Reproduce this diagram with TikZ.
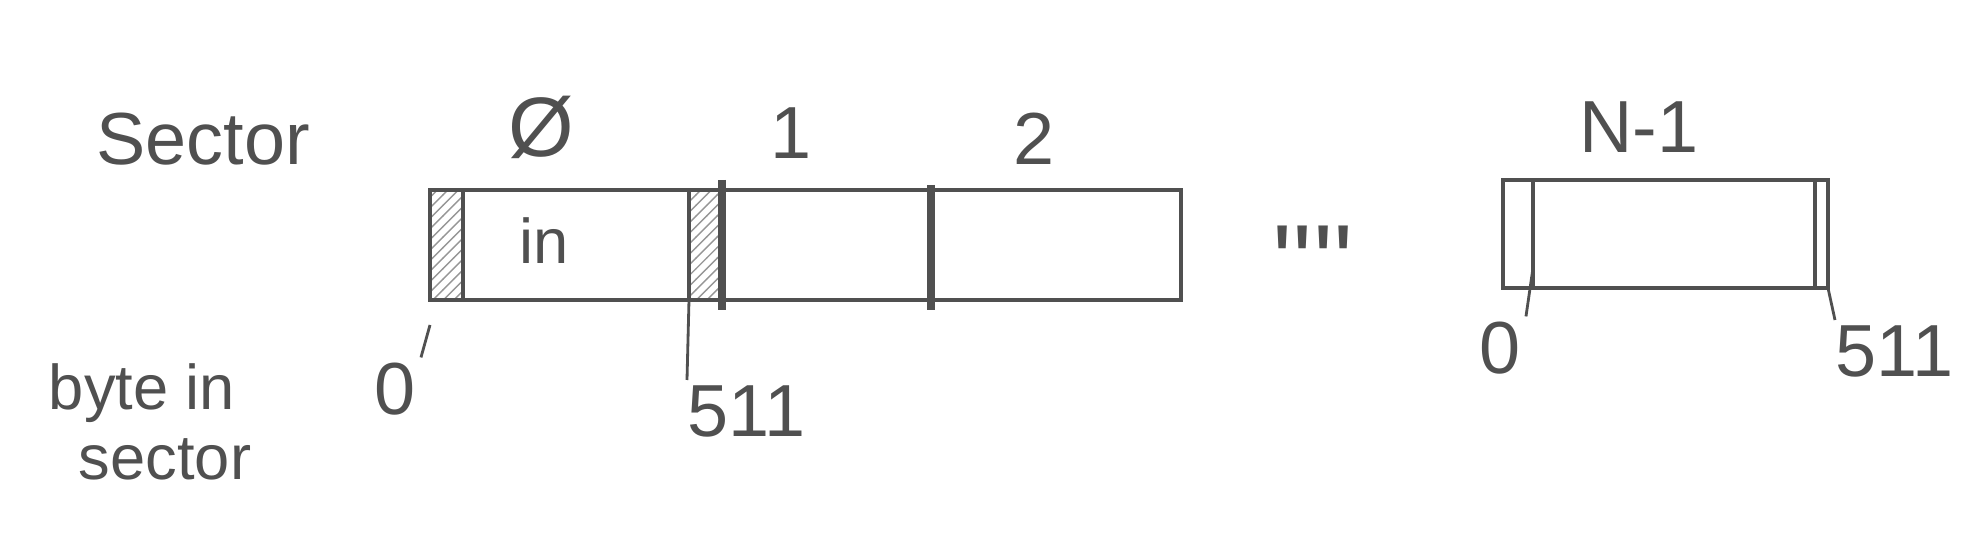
\documentclass[tikz,border=0pt]{standalone}
\usepackage{fontspec}
\setmainfont{Liberation Sans}
\usetikzlibrary{patterns}
\definecolor{pencil}{RGB}{80,80,80}
\begin{document}
\begin{tikzpicture}[line width=1.1pt, draw=pencil, text=pencil]
    \tikzstyle{sectorbox} = [rectangle, draw, inner sep=0pt, outer sep=0pt, minimum height=1.1cm]
    \tikzstyle{strip} = [rectangle, draw, inner sep=0pt, outer sep=0pt, minimum height=1.1cm, minimum width=0.33cm]
    \tikzstyle{num} = [font=\fontsize{21}{24}\selectfont, inner sep=1pt]
    \tikzstyle{word} = [font=\fontsize{18}{20}\selectfont, align=left]
    \tikzstyle{border} = [line width=2.2pt]
    \tikzstyle{leader} = [line width=0.8pt]

    \useasboundingbox (0,0) rectangle (19.85,-5.43);

    % Labels on the left
    \node [word, font=\fontsize{21}{24}\selectfont] (sectorword) at (2.03,-1.39) {Sector};
    \node [word] (byteword) at (1.50,-4.22) {byte in\\\hspace*{0.3cm}sector};

    % Sector 0
    \node [sectorbox, minimum width=2.92cm] (sec0) at (5.76,-2.45) {};
    \node [strip, anchor=west, pattern=north east lines, pattern color=pencil!60] (pad0a) at (sec0.west) {};
    \node [strip, anchor=east, pattern=north east lines, pattern color=pencil!60] (pad0b) at (sec0.east) {};
    \node [num, font=\fontsize{24}{26}\selectfont] (lab0) at (5.41,-1.27) {Ø};
    \node [word] (inword) at (5.44,-2.41) {in};

    % Sector 1
    \node [sectorbox, minimum width=2.09cm] (sec1) at (8.265,-2.45) {};
    \node [num] (lab1) at (7.91,-1.33) {1};

    % Sector 2
    \node [sectorbox, minimum width=2.50cm] (sec2) at (10.56,-2.45) {};
    \node [num] (lab2) at (10.34,-1.39) {2};

    % heavier borders between the sectors
    \draw [border] ([yshift=0.1cm]sec1.north west) -- ([yshift=-0.1cm]sec1.south west);
    \draw [border] ([yshift=0.05cm]sec2.north west) -- ([yshift=-0.1cm]sec2.south west);

    % more sectors
    \node [num, font=\fontsize{30}{32}\selectfont] (gap) at (13.13,-2.62) {\textquotesingle\textquotesingle\textquotesingle\textquotesingle};

    % Sector N-1
    \node [sectorbox, minimum width=3.25cm, minimum height=1.08cm] (secN) at (16.655,-2.34) {};
    \node [strip, anchor=west, minimum height=1.08cm, minimum width=0.30cm] (padNa) at (secN.west) {};
    \node [strip, anchor=east, minimum height=1.08cm, minimum width=0.13cm] (padNb) at (secN.east) {};
    \node [num] (labN) at (16.39,-1.27) {N-1};

    % byte offsets
    \node [num] (lo0) at (3.95,-3.89) {0};
    \node [num, anchor=north west] (hi0) at (6.82,-3.80) {511};
    \node [num] (loN) at (15.00,-3.48) {0};
    \node [num, anchor=north west] (hiN) at (18.30,-3.20) {511};
    \draw [leader] ([yshift=-0.25cm]pad0a.south west) -- (lo0.north east);
    \draw [leader] (pad0b.south west) -- ([xshift=0.05cm]hi0.north west);
    \draw [leader] ([yshift=0.2cm]padNa.south east) -- (loN.north east);
    \draw [leader] (padNb.south east) -- ([xshift=0.05cm]hiN.north west);

\end{tikzpicture}
\end{document}
